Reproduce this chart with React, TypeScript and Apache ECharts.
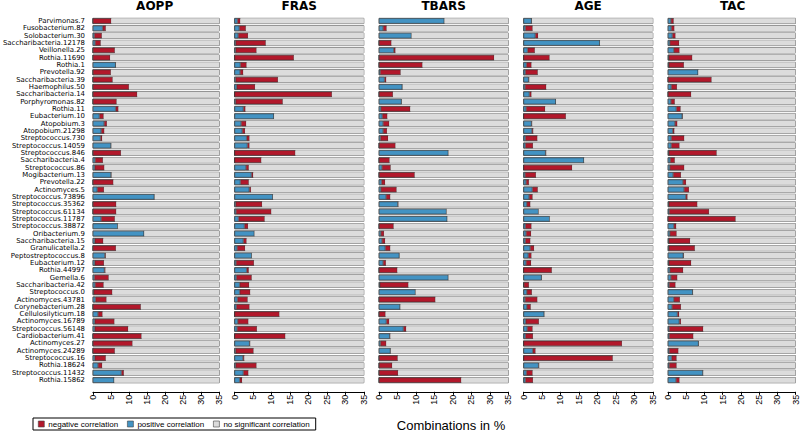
import React, { useEffect, useRef } from "react";
import * as echarts from "echarts";

const categories = [
  "Parvimonas.7", "Fusobacterium.82", "Solobacterium.30", "Saccharibacteria.12178", "Veillonella.25",
  "Rothia.11690", "Rothia.1", "Prevotella.92", "Saccharibacteria.39", "Haemophilus.50",
  "Saccharibacteria.14", "Porphyromonas.82", "Rothia.11", "Eubacterium.10", "Atopobium.3",
  "Atopobium.21298", "Streptococcus.730", "Streptococcus.14059", "Streptococcus.846", "Saccharibacteria.4",
  "Streptococcus.86", "Mogibacterium.13", "Prevotella.22", "Actinomyces.5", "Streptococcus.73896",
  "Streptococcus.35362", "Streptococcus.61134", "Streptococcus.11787", "Streptococcus.38872", "Oribacterium.9",
  "Saccharibacteria.15", "Granulicatella.2", "Peptostreptococcus.8", "Eubacterium.12", "Rothia.44997",
  "Gemella.6", "Saccharibacteria.42", "Streptococcus.0", "Actinomyces.43781", "Corynebacterium.28",
  "Cellulosilyticum.18", "Actinomyces.16789", "Streptococcus.56148", "Cardiobacterium.41", "Actinomyces.27",
  "Actinomyces.24289", "Streptococcus.16", "Rothia.18624", "Streptococcus.11432", "Rothia.15862",
];

const panelNames = ["AOPP", "FRAS", "TBARS", "AGE", "TAC"];

const aoppPos = [0, 2.7, 0.4, 0.6, 0, 0, 6.3, 0, 0, 0, 0, 0, 6.3, 1.8, 3.1, 2.3, 2.1, 5.0, 0, 0.6, 0.5, 5.0, 0, 1.2, 17.0, 0, 0, 2.3, 6.9, 14.2, 0.5, 0, 3.3, 0.5, 3.2, 0.4, 0.6, 0.2, 0.7, 0, 1.4, 0.5, 0.5, 0, 0, 0, 0.5, 1.4, 7.9, 5.9];
const aoppNeg = [5.1, 0.9, 2.1, 1.6, 6.1, 4.8, 0.1, 5.0, 5.5, 10.0, 12.3, 6.6, 0.8, 1.2, 0.8, 0.9, 0.5, 0.15, 7.8, 2.2, 2.7, 0.2, 5.7, 1.9, 0.1, 6.5, 6.5, 3.8, 0, 0, 2.4, 6.4, 0.3, 2.6, 0.3, 4.0, 2.4, 5.2, 3.1, 13.3, 1.3, 5.5, 9.3, 13.5, 11.0, 6.1, 3.1, 1.2, 0.7, 0];

const frasPos = [0.8, 1.3, 1.0, 0.3, 0.3, 0, 1.6, 1.5, 0.3, 0.6, 0, 0.3, 2.4, 10.7, 1.8, 2.1, 3.3, 3.5, 0, 0, 3.1, 4.6, 1.6, 4.0, 10.4, 0.3, 0.4, 1.1, 2.7, 5.4, 2.4, 0.7, 4.7, 0.4, 3.3, 0.5, 1.4, 1.4, 0.8, 0.5, 0, 0.9, 0.7, 0, 4.1, 0.3, 2.3, 0.3, 2.4, 1.4];
const frasNeg = [0.8, 1.8, 2.7, 8.2, 5.7, 16.1, 1.7, 0.9, 11.5, 5.0, 26.4, 12.8, 0.6, 0, 1.4, 0.8, 0.8, 0.6, 16.5, 7.3, 0.8, 0.5, 2.3, 0.5, 0, 7.2, 9.6, 7.1, 1.0, 0, 0.9, 2.2, 0, 4.9, 0.6, 4.2, 2.6, 2.9, 2.8, 3.6, 12.2, 2.9, 5.4, 13.8, 0.2, 4.9, 0.4, 5.7, 1.4, 0.7];

const tbarsPos = [17.7, 1.1, 8.8, 0, 4.0, 0, 0, 0.3, 1.5, 6.3, 0, 6.1, 0.5, 0.9, 1.1, 1.1, 0.4, 0, 18.8, 0, 0.8, 0, 0.7, 0.5, 1.9, 5.1, 18.3, 18.5, 0, 0.5, 0.8, 1.7, 5.5, 1.1, 0, 18.8, 0.2, 9.9, 0, 5.7, 0, 2.0, 6.6, 2.9, 0.4, 3.1, 0, 0, 0, 0];
const tbarsNeg = [0, 1.0, 0, 3.4, 0.5, 31.2, 11.8, 5.6, 0.5, 0.1, 3.8, 0.1, 8.0, 1.4, 1.7, 1.1, 2.1, 4.5, 0, 2.9, 2.4, 9.7, 1.0, 4.3, 1.2, 0.2, 0, 0, 4.0, 0.9, 0.9, 1.4, 0.1, 0.8, 5.0, 0, 7.8, 0, 15.3, 0.1, 1.8, 0.8, 0.8, 0.2, 1.6, 0.1, 5.1, 3.6, 5.2, 22.3];

const agePos = [2.2, 0.5, 3.2, 20.7, 1.1, 0, 0.8, 0.5, 1.4, 0.4, 1.6, 8.8, 0.7, 0, 2.2, 2.3, 0.5, 0.5, 6.0, 16.4, 0, 0.4, 0.7, 2.4, 1.5, 0.9, 4.1, 7.1, 0.5, 0.7, 0.5, 1.8, 1.3, 0.7, 0, 4.9, 0.1, 0.9, 0.4, 0.9, 5.6, 0.6, 1.0, 0.5, 0, 2.5, 0, 4.1, 0.8, 0.5];
const ageNeg = [0.1, 2.0, 0.8, 0, 2.0, 7.1, 1.4, 3.4, 0.2, 5.8, 0.6, 0, 5.2, 11.5, 0.2, 0.4, 3.3, 2.1, 0.2, 0, 13.2, 3.0, 0.8, 1.5, 1.0, 1.0, 0, 0, 1.7, 1.4, 1.4, 1.1, 0.9, 1.4, 7.7, 0.1, 1.4, 1.4, 3.4, 1.1, 0.1, 3.6, 1.5, 2.1, 26.7, 0.8, 24.2, 0.2, 1.7, 2.1];

const tacPos = [0.8, 0.9, 1.2, 0.5, 1.6, 0.2, 0.2, 8.3, 0, 0.9, 0, 0.8, 2.3, 3.9, 1.9, 1.3, 0.9, 0.9, 0.2, 0.6, 0.5, 1.4, 4.1, 4.4, 4.9, 0.2, 0.3, 0, 1.6, 0.5, 0.2, 0.2, 4.2, 0.2, 0.5, 0.8, 0.3, 6.8, 1.6, 1.1, 2.6, 3.1, 0.3, 0.3, 8.4, 0.3, 1.0, 0.3, 9.6, 2.2];
const tacNeg = [0.8, 0.9, 0.9, 2.6, 1.6, 6.5, 4.2, 0, 12.0, 1.6, 6.4, 1.1, 1.2, 0.2, 0.7, 0.5, 3.6, 2.3, 13.2, 1.3, 4.0, 2.2, 0.9, 1.4, 0.5, 7.9, 11.0, 18.6, 0.7, 1.9, 5.9, 7.2, 0.2, 6.2, 3.7, 1.8, 1.8, 0.1, 1.7, 2.5, 0.5, 0.5, 9.4, 6.7, 0.1, 2.6, 1.4, 2.1, 0.1, 1.0];

const positiveSeries = [aoppPos, frasPos, tbarsPos, agePos, tacPos];
const negativeSeries = [aoppNeg, frasNeg, tbarsNeg, ageNeg, tacNeg];

const RED = "#b2182b";
const BLUE = "#4393c3";
const GRAY = "#dcdcdc";
const FONT = "Liberation Sans, Arial, sans-serif";
const LABEL_FONT = "DejaVu Sans, sans-serif";

const PANEL_LEFT = [90, 234.5, 379, 523.5, 668];
const PANEL_WIDTH = 129.3;
const GRID_TOP = 17.3;
const GRID_HEIGHT = 366.5;

export default function App() {
  const ref = useRef<HTMLDivElement>(null);

  useEffect(() => {
    if (!ref.current) return;
    const chart = echarts.init(ref.current, undefined, { renderer: "svg" });

    const grids: any[] = [];
    const xAxes: any[] = [];
    const yAxes: any[] = [];
    const series: any[] = [];
    const titles: any[] = [];

    panelNames.forEach((name, i) => {
      grids.push({ left: PANEL_LEFT[i], width: PANEL_WIDTH, top: GRID_TOP, height: GRID_HEIGHT });
      xAxes.push({
        type: "value",
        gridIndex: i,
        min: 0,
        max: 35,
        interval: 5,
        offset: 8,
        axisLine: { show: true, onZero: false, lineStyle: { color: "#000", width: 1 } },
        axisTick: { show: true, length: 3, lineStyle: { color: "#000" } },
        axisLabel: { rotate: 90, fontSize: 9, margin: 3, color: "#000", fontFamily: FONT },
        splitLine: { show: false },
      });
      yAxes.push({
        type: "category",
        gridIndex: i,
        data: categories,
        inverse: true,
        axisLine: { show: false },
        axisTick: { show: false },
        axisLabel: {
          show: i === 0,
          fontSize: 6.9,
          lineHeight: 7,
          margin: 8,
          color: "#000",
          fontFamily: LABEL_FONT,
          interval: 0,
        },
      });
      titles.push({
        text: name,
        left: PANEL_LEFT[i] + PANEL_WIDTH / 2,
        top: 0,
        textAlign: "center",
        padding: 0,
        textStyle: { fontSize: 12, fontWeight: "bold", fontFamily: "DejaVu Sans, sans-serif", color: "#000" },
      });
      const pos = positiveSeries[i];
      const neg = negativeSeries[i];
      const common = {
        type: "bar",
        xAxisIndex: i,
        yAxisIndex: i,
        stack: "s" + i,
        barCategoryGap: "28%",
        clip: true,
      };
      series.push({
        ...common,
        name: "positive correlation",
        data: pos,
        itemStyle: { color: BLUE, borderColor: "#333", borderWidth: 0.5 },
      });
      series.push({
        ...common,
        name: "negative correlation",
        data: neg,
        itemStyle: { color: RED, borderColor: "#333", borderWidth: 0.5 },
      });
      series.push({
        ...common,
        name: "no significant correlation",
        data: pos.map((p, j) => +(100 - p - neg[j]).toFixed(2)),
        itemStyle: { color: GRAY },
        showBackground: true,
        backgroundStyle: { color: "rgba(0,0,0,0)", borderColor: "#6a6a6a", borderWidth: 1 },
      });
    });

    titles.push({
      text: "Combinations in %",
      left: 451,
      top: 419,
      textAlign: "center",
      padding: 0,
      textStyle: { fontSize: 13, fontWeight: "normal", fontFamily: FONT, color: "#000" },
    });

    chart.setOption({
      animation: false,
      backgroundColor: "#fff",
      title: titles,
      grid: grids,
      xAxis: xAxes,
      yAxis: yAxes,
      legend: {
        data: ["negative correlation", "positive correlation", "no significant correlation"],
        left: 33,
        top: 418,
        orient: "horizontal",
        icon: "rect",
        itemWidth: 6,
        itemHeight: 6,
        itemGap: 9,
        padding: [2, 6, 2, 5],
        borderColor: "#000",
        borderWidth: 1,
        selectedMode: false,
        itemStyle: { borderColor: "#444", borderWidth: 0.6 },
        textStyle: { fontSize: 8, fontFamily: FONT, color: "#000", padding: [0, 0, 0, -1] },
      },
      series,
    });

    return () => chart.dispose();
  }, []);

  return (
    <div
      ref={ref}
      style={{ position: "fixed", left: 0, top: 0, width: 800, height: 433 }}
    />
  );
}
